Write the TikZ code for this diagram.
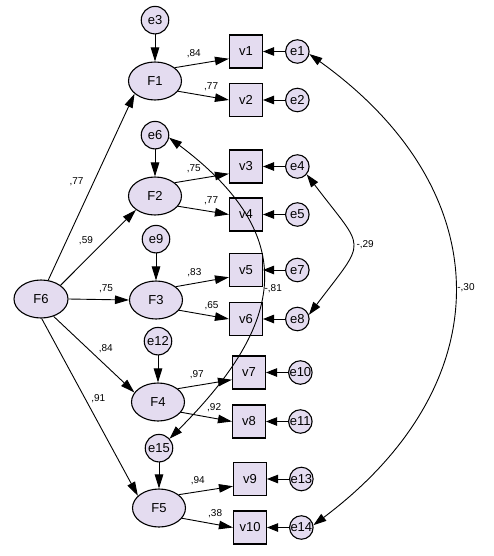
\documentclass[tikz,border=0pt]{standalone}
\usepackage{fontspec}
\setmainfont{Liberation Sans}
\usetikzlibrary{positioning, arrows.meta, shapes.geometric}
\definecolor{lav}{RGB}{228,220,240}

\begin{document}
\begin{tikzpicture}[x=1pt, y=-1pt,
            latent/.style={draw, line width=1.1pt, ellipse, fill=lav, minimum width=53pt, minimum height=38pt, inner sep=0pt, font=\fontsize{13}{15}\selectfont},
            item/.style={draw, line width=1.1pt, fill=lav, minimum size=33pt, inner sep=0pt, font=\fontsize{13}{15}\selectfont},
            error/.style={draw, line width=1.1pt, circle, fill=lav, minimum size=27.5pt, inner sep=0pt, font=\fontsize{13}{15}\selectfont},
            resid/.style={error, minimum size=23.5pt},
            arrow/.style={-{Triangle[length=14pt, width=8.5pt]}, line width=0.9pt},
            short arrow/.style={-{Triangle[length=11pt, width=8.5pt]}, line width=0.9pt},
            covar/.style={{Triangle[length=13pt, width=8.5pt]}-{Triangle[length=13pt, width=8.5pt]}, line width=0.9pt},
            wt/.style={above=4pt, inner sep=2pt, font=\fontsize{10}{12}\selectfont}
        ]
            \useasboundingbox (0,0) rectangle (493,556);

            % factors
            \node [latent] (F1) at (155,81) {F1};
            \node [latent] (F2) at (155,196) {F2};
            \node [latent] (F3) at (156,300) {F3};
            \node [latent] (F4) at (158,402) {F4};
            \node [latent] (F5) at (159,508) {F5};
            \node [latent, minimum width=54pt] (F6) at (41,299) {F6};

            \node [error, above=27pt of F1] (e3) {e3};
            \node [error, above=27pt of F2] (e6) {e6};
            \node [error, above=27pt of F3] (e9) {e9};
            \node [error, above=27pt of F4] (e12) {e12};
            \node [error, above=26pt of F5] (e15) {e15};

            % items
            \node [item] (v1) at (246,51.5) {v1};
            \node [item] (v2) at (246,100) {v2};
            \node [item] (v3) at (246,166.5) {v3};
            \node [item] (v4) at (246,214.5) {v4};
            \node [item] (v5) at (246,270) {v5};
            \node [item] (v6) at (246,319) {v6};
            \node [item] (v7) at (249,372.5) {v7};
            \node [item] (v8) at (249,421.5) {v8};
            \node [item] (v9) at (250,479) {v9};
            \node [item] (v10) at (250,527.5) {v10};

            \node [resid, right=22pt of v1] (e1) {e1};
            \node [resid, right=22pt of v2] (e2) {e2};
            \node [resid, right=22pt of v3] (e4) {e4};
            \node [resid, right=22pt of v4] (e5) {e5};
            \node [resid, right=22pt of v5] (e7) {e7};
            \node [resid, right=22pt of v6] (e8) {e8};
            \node [resid, right=22pt of v7] (e10) {e10};
            \node [resid, right=22pt of v8] (e11) {e11};
            \node [resid, right=22pt of v9] (e13) {e13};
            \node [resid, right=22pt of v10] (e14) {e14};

            % second order paths
            \draw [arrow] (F6.69) -- node[wt, pos=0.53, left=8pt] {,77} (F1.212);
            \draw [arrow] (F6.35) -- node[wt, pos=0.48, above left=2pt] {,59} (F2.216);
            \draw [arrow] (F6.east) -- node[wt, pos=0.62] {,75} (F3.west);
            \draw [arrow] (F6.-54) -- node[wt, pos=0.52, above right=1pt] {,84} (F4.158);
            \draw [arrow] (F6.-88) -- node[wt, pos=0.49, above right=0pt] {,91} (F5.150);

            \foreach \e/\f in {e3/F1, e6/F2, e9/F3, e12/F4, e15/F5}
                \draw [arrow] (\e) -- (\f);

            % loadings
            \draw [arrow] (F1.34) -- node[wt, pos=0.35] {,84} (v1.203);
            \draw [arrow] (F1.-24) -- node[wt, pos=0.65] {,77} (v2.west);
            \draw [arrow] (F2.34) -- node[wt, pos=0.35] {,75} (v3.203);
            \draw [arrow] (F2.-24) -- node[wt, pos=0.65] {,77} (v4.west);
            \draw [arrow] (F3.34) -- node[wt, pos=0.35] {,83} (v5.203);
            \draw [arrow] (F3.-24) -- node[wt, pos=0.65] {,65} (v6.west);
            \draw [arrow] (F4.34) -- node[wt, pos=0.35] {,97} (v7.203);
            \draw [arrow] (F4.-24) -- node[wt, pos=0.65] {,92} (v8.west);
            \draw [arrow] (F5.34) -- node[wt, pos=0.35] {,94} (v9.203);
            \draw [arrow] (F5.-24) -- node[wt, pos=0.65] {,38} (v10.west);

            \foreach \e/\v in {e1/v1, e2/v2, e4/v3, e5/v4, e7/v5, e8/v6, e10/v7, e11/v8, e13/v9, e14/v10}
                \draw [short arrow] (\e) -- (\v);

            % correlated errors
            \draw [covar] (e6.-10) .. controls +(132,99) and +(115.5,-115.5) .. node[wt, pos=0.5, below right=0pt] {-,81} (e15.42);
            \draw [covar] (e4.-40) .. controls +(59,78) and +(59,-78) .. node[wt, pos=0.5, right=2pt] {-,29} (e8.20);
            \draw [covar] (e1.-12) .. controls +(191,137) and +(189,-142) .. node[wt, pos=0.5, right=1pt] {-,30} (e14.11);

        \end{tikzpicture}
\end{document}
